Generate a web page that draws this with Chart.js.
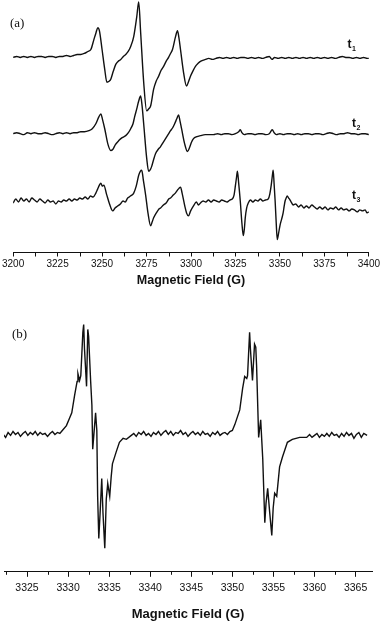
<!DOCTYPE html>
<html>
<head>
<meta charset="utf-8">
<script src="https://cdn.jsdelivr.net/npm/chart.js@4.4.1/dist/chart.umd.min.js"></script>
<style>
  html, body { margin: 0; padding: 0; background: #fff; }
  body { width: 382px; height: 624px; position: relative; overflow: hidden; }
  .panel { position: absolute; left: 0; width: 382px; }
  #panelA { top: 0; height: 300px; }
  #panelB { top: 300px; height: 324px; }
  .tag { position: absolute; font: 13px "Liberation Serif", serif; color: #111; line-height: 15px; }
</style>
</head>
<body>
<div class="panel" id="panelA"><canvas id="chartA"></canvas></div>
<div class="panel" id="panelB"><canvas id="chartB"></canvas></div>
<div class="tag" style="left:10px; top:15px">(a)</div>
<div class="tag" style="left:12px; top:326px">(b)</div>
<script>
// field (G), signal relative to each trace's own baseline
const t1Spectrum = [
	[3200,0],[3202,1],[3204,0],[3206,1],[3208,0],[3210,1],[3212,0],[3214,1],[3216,1],[3218,0],
	[3220,1],[3222,1],[3224,0],[3226,1],[3228,1],[3230,2],[3232,1],[3234,2],[3236,3],[3238,3],
	[3240,4],[3242,6],[3243.7,8],[3245.4,18],[3246.6,25],[3247.6,30],[3248.5,27],[3250,8],[3251.5,-12],[3252.7,-25],
	[3254,-24],[3254.9,-22],[3256.3,-14],[3257.7,-7],[3259,-4],[3260.5,-2],[3262,1],[3263.3,3],[3264.7,6],[3266.1,11],
	[3267.8,21],[3269.5,41],[3270.6,56],[3271.7,25],[3273.4,-25],[3275.1,-54],[3276.2,-52],[3277.3,-49],[3279,-32],[3280.4,-24],
	[3281.8,-19],[3283.2,-13],[3284.6,-9],[3286,-4],[3287.4,0],[3288.5,4],[3289.6,8],[3291.3,21],[3292.4,27],[3293.2,20],
	[3294.1,8],[3295.8,-15],[3297.5,-29],[3298.5,-25],[3299.7,-19],[3301,-14],[3302.5,-9],[3304,-6],[3305.3,-4],[3308.1,-2],
	[3310,-1],[3312,-2],[3314,-1],[3316,0],[3318,-1],[3320,0],[3322,-1],[3324,0],[3326,-1],[3328,0],
	[3330,0],[3332,-1],[3334,0],[3336,-1],[3338,0],[3340,-1],[3342,0],[3344,1],[3345.5,-2],[3347,0],
	[3349,-1],[3351,0],[3353,-1],[3355,0],[3357,-1],[3359,0],[3361,-1],[3363,0],[3365,-1],[3367,0],
	[3369,-1],[3371,0],[3373,-1],[3375,0],[3377,-1],[3379,0],[3381,-1],[3383,0],[3385,1],[3387,0],
	[3389,0],[3391,-1],[3393,0],[3395,-1],[3397,0],[3399,-1],[3400,-1]
];

const t2Spectrum = [
	[3200,0],[3202,1],[3204,0],[3206,-1],[3208,1],[3210,0],[3212,1],[3214,0],[3216,0],[3218,1],
	[3220,0],[3222,-1],[3224,0],[3226,1],[3228,0],[3230,1],[3232,0],[3234,1],[3236,1],[3238,2],
	[3240,2],[3242.6,3],[3244.5,5],[3246.5,10],[3248.2,17],[3249.3,20],[3250.3,14],[3251.5,5],[3253.2,-10],[3254.9,-17],
	[3256,-16],[3257.5,-11],[3259.4,-7],[3261.3,-4],[3263.3,-2],[3264.8,1],[3266.1,5],[3267.4,10],[3268.3,17],[3269.5,25],
	[3270.6,33],[3271.7,38],[3272.5,28],[3273.4,10],[3275.1,-25],[3276.2,-38],[3277.2,-36],[3277.9,-33],[3279,-26],[3280.1,-20],
	[3281.5,-16],[3282.9,-13],[3284.3,-9],[3285.7,-5],[3287.1,-1],[3288.5,3],[3289.7,6],[3290.8,10],[3292,15],[3293,19],
	[3293.8,13],[3294.7,5],[3296.4,-10],[3298,-18],[3299.2,-14],[3300.2,-9],[3301.4,-5],[3303.3,-3],[3305.3,-2],[3308,-1],
	[3310,-1],[3312.6,-1],[3315,0],[3317,-1],[3319,0],[3321,0],[3323,-1],[3325,0],[3326.8,2],[3327.7,4],
	[3328.6,1],[3330,-1],[3332,0],[3334,0],[3336,-1],[3338,0],[3340,0],[3342,-1],[3344,0],[3345.7,4],
	[3346.7,1],[3348,-1],[3350,0],[3352,-1],[3354,0],[3356,0],[3358,-1],[3360,0],[3362,-1],[3364,0],
	[3366,0],[3368,-1],[3370,0],[3372,0],[3374,-1],[3376,0],[3378,1],[3380,0],[3382,-1],[3384,0],
	[3386,0],[3388,1],[3390,0],[3392,0],[3394,-1],[3396,0],[3398,0],[3400,-1]
];

const t3Spectrum = [
	[3200,-2],[3201.5,2],[3203,-1],[3204.5,3],[3206,0],[3207.5,2],[3209,-1],[3210.5,3],[3212,1],[3213.5,-1],
	[3215,2],[3216.5,0],[3218,-2],[3219.5,1],[3221,-1],[3222.5,0],[3224,-3],[3225.5,0],[3227,-1],[3228.5,1],
	[3230,0],[3231.5,2],[3233,0],[3234.5,2],[3236,1],[3237.5,3],[3239,2],[3240.5,4],[3242,2],[3243.5,5],
	[3245,4],[3246.5,8],[3247.5,12],[3248.5,16],[3249.3,18],[3250.2,15],[3251,16],[3252.5,7],[3254.2,-3],[3256,-10],
	[3257.3,-7],[3258.8,-5],[3260.3,-3],[3261.8,0],[3263,-1],[3264.4,3],[3266,5],[3267.8,8],[3269.2,15],[3270.6,26],
	[3271.5,30],[3272.3,31],[3273.3,20],[3274.5,6],[3275.8,-12],[3277.3,-25],[3278.2,-21],[3279,-17],[3280.5,-12],[3282,-8],
	[3282.9,-7],[3284.5,-4],[3286,-2],[3287.5,2],[3288.5,3],[3290,6],[3291.2,8],[3292.4,11],[3293.3,13],[3294.1,14],
	[3295,8],[3296.5,-5],[3297.5,-12],[3298.6,-15],[3299.8,-10],[3301.4,-5],[3303,-1],[3304.2,-4],[3305.3,-2],[3306.8,0],
	[3308.3,-1],[3309.8,1],[3311.3,-1],[3312.8,1],[3314.3,0],[3315.8,-1],[3317.3,1],[3318.8,0],[3320.3,-1],[3321.8,1],
	[3323.2,2],[3324.2,6],[3325,16],[3325.6,24],[3326.1,30],[3326.8,18],[3327.7,0],[3328.6,-22],[3329.4,-35],[3330,-28],
	[3330.5,-17],[3331.3,-7],[3332.2,-2],[3333.4,1],[3334.8,-1],[3336.2,1],[3337.6,0],[3339,2],[3340.4,0],[3341.8,1],
	[3343.4,2],[3344.3,7],[3345.1,16],[3345.7,25],[3346.2,31],[3346.7,18],[3347.3,0],[3347.9,-22],[3348.5,-39],[3349.2,-33],
	[3350.1,-24],[3351,-18],[3351.8,-12],[3352.4,-5],[3352.9,0],[3353.5,3],[3354.1,5],[3354.9,3],[3355.7,1],[3356.6,-2],
	[3357.4,-4],[3358.9,-3],[3360.4,-6],[3361.9,-4],[3363.4,-7],[3364.9,-5],[3366.4,-7],[3367.9,-4],[3369.4,-6],[3370.9,-8],
	[3372.4,-6],[3373.9,-8],[3375.4,-6],[3376.9,-9],[3378.4,-7],[3379.9,-8],[3381.4,-6],[3382.9,-9],[3384.4,-7],[3385.9,-9],
	[3387.4,-8],[3388.9,-10],[3390.4,-8],[3391.9,-9],[3393.4,-11],[3394.9,-9],[3396.4,-10],[3397.9,-9],[3399,-12],[3400,-11]
];

const bSpectrum = [
	[3322.1,0],[3322.4,-3],[3322.7,2],[3323,-1],[3323.3,3],[3323.6,0],[3323.9,2],[3324.2,-2],[3324.5,1],[3324.8,3],
	[3325.1,-1],[3325.4,2],[3325.7,0],[3326,3],[3326.3,-1],[3326.6,2],[3326.9,0],[3327.2,1],[3327.5,-2],[3327.8,1],
	[3328.1,3],[3328.4,0],[3328.7,2],[3329,1],[3329.3,4],[3329.8,9],[3330.2,17],[3330.45,22],[3330.8,40],[3331.1,54],
	[3331.2,62],[3331.4,55],[3331.55,60],[3331.8,104],[3331.9,112],[3332,87],[3332.25,49],[3332.4,107],[3332.5,100],[3332.75,54],
	[3332.9,30],[3333,-15],[3333.35,22],[3333.5,4],[3333.6,-63],[3333.74,-106],[3333.9,-80],[3334.1,-45],[3334.25,-80],[3334.47,-116],
	[3334.65,-66],[3334.83,-50],[3335.07,-63],[3335.25,-43],[3335.4,-30],[3335.85,-18],[3336.25,-8],[3336.7,-4],[3337.1,-5],[3337.7,-1],
	[3338,1],[3338.3,-2],[3338.6,2],[3338.9,0],[3339.2,3],[3339.5,-1],[3339.8,1],[3340.1,-2],[3340.4,2],[3340.7,0],
	[3341,3],[3341.3,-1],[3341.6,2],[3341.9,4],[3342.2,0],[3342.5,3],[3342.8,-1],[3343.1,2],[3343.4,1],[3343.7,4],
	[3344,0],[3344.3,2],[3344.6,-2],[3344.9,1],[3345.2,3],[3345.5,0],[3345.8,2],[3346.1,-1],[3346.4,3],[3346.7,0],
	[3347,1],[3347.3,-2],[3347.6,2],[3347.9,0],[3348.2,3],[3348.5,-1],[3348.8,1],[3349.1,2],[3349.4,0],[3349.7,3],
	[3350,4],[3350.3,10],[3350.9,25],[3351.25,47],[3351.5,59],[3351.75,57],[3351.85,60],[3352.1,104],[3352.2,87],[3352.45,55],
	[3352.7,92],[3352.85,89],[3352.95,70],[3353.2,-3],[3353.45,15],[3353.58,-6],[3353.7,-25],[3353.95,-90],[3354.1,-70],[3354.3,-55],
	[3354.55,-80],[3354.8,-103],[3354.97,-75],[3355.15,-60],[3355.4,-63],[3355.75,-33],[3356.1,-23],[3356.7,-8],[3357.3,-5],[3358.2,-3],
	[3359.05,-3],[3359.4,0],[3359.7,-3],[3360,-1],[3360.3,1],[3360.6,-3],[3360.9,0],[3361.2,-2],[3361.5,1],[3361.8,-2],
	[3362.1,2],[3362.4,-1],[3362.7,0],[3363,-3],[3363.3,1],[3363.6,-2],[3363.9,2],[3364.2,-1],[3364.5,1],[3364.8,-4],
	[3365.1,0],[3365.4,2],[3365.7,-3],[3366,1],[3366.4,-1]
];

const aTicks = [3200, 3225, 3250, 3275, 3300, 3325, 3350, 3375, 3400];
const aMinorTicks = [3212.5, 3237.5, 3262.5, 3287.5, 3312.5, 3337.5, 3362.5, 3387.5];
const bTicks = [3325, 3330, 3335, 3340, 3345, 3350, 3355, 3360, 3365];
const bMinorTicks = [3322.5, 3327.5, 3332.5, 3337.5, 3342.5, 3347.5, 3352.5, 3357.5, 3362.5];

// stacking offsets for panel (a) and trace tags
const aOffsets = [197, 120, 52];
const aSubscripts = ["1", "2", "3"];
const aTagFields = [3388, 3390.5, 3390.5];
const aTagLift = [10, 7, 2];
const bOffset = 140;

const INK = "#111";

function toPoints(spectrum, offset) {
	return spectrum.map(([x, y]) => ({ x, y: y + offset }));
}

function traceDataset(points, smooth) {
	return {
		data: points,
		borderColor: INK,
		borderWidth: 1.4,
		pointRadius: 0,
		cubicInterpolationMode: smooth ? "monotone" : "default",
		tension: 0,
		fill: false,
	};
}

const minorTicks = {
	id: "minorTicks",
	afterDraw(chart, _args, opts) {
		const { ctx } = chart;
		const scale = chart.scales.x;
		ctx.save();
		ctx.strokeStyle = INK;
		ctx.lineWidth = 1;
		ctx.beginPath();
		for (const v of opts.values) {
			const px = Math.round(scale.getPixelForValue(v)) + 0.5;
			ctx.moveTo(px, scale.top);
			ctx.lineTo(px, scale.top + opts.length);
		}
		ctx.stroke();
		ctx.restore();
	},
};

const traceTags = {
	id: "traceTags",
	afterDraw(chart) {
		const { ctx, scales } = chart;
		ctx.save();
		ctx.fillStyle = INK;
		ctx.textBaseline = "alphabetic";
		aSubscripts.forEach((sub, i) => {
			const x = scales.x.getPixelForValue(aTagFields[i]);
			const y = scales.y.getPixelForValue(aOffsets[i] + aTagLift[i]);
			ctx.font = "bold 12px 'Liberation Sans', Arial, sans-serif";
			ctx.fillText("t", x, y);
			ctx.font = "bold 7px 'Liberation Sans', Arial, sans-serif";
			ctx.fillText(sub, x + 4.5, y + 3);
		});
		ctx.restore();
	},
};

function fieldAxis(min, max, ticks, tickLen, tickPad, labelSize, titleSize, titlePad) {
	return {
		type: "linear",
		min,
		max,
		afterBuildTicks(scale) {
			scale.ticks = ticks.map((v) => ({ value: v }));
		},
		grid: {
			drawOnChartArea: false,
			drawTicks: true,
			tickLength: tickLen,
			tickColor: INK,
			tickWidth: 1,
		},
		border: { display: true, color: INK, width: 1 },
		ticks: {
			color: INK,
			padding: tickPad,
			maxRotation: 0,
			autoSkip: false,
			font: { family: "'Liberation Sans', Arial, sans-serif", size: labelSize },
			callback: (v) => String(v),
		},
		title: {
			display: true,
			text: "Magnetic Field (G)",
			color: INK,
			padding: titlePad,
			font: { family: "'Liberation Sans', Arial, sans-serif", size: titleSize, weight: "bold" },
		},
	};
}

new Chart(document.getElementById("chartA"), {
	type: "line",
	data: {
		datasets: [
			traceDataset(toPoints(t1Spectrum, aOffsets[0]), true),
			traceDataset(toPoints(t2Spectrum, aOffsets[1]), true),
			traceDataset(toPoints(t3Spectrum, aOffsets[2]), true),
		],
	},
	options: {
		animation: false,
		responsive: true,
		maintainAspectRatio: false,
		layout: { padding: { left: 12, right: 13, top: 0, bottom: 11.5 } },
		scales: {
			x: fieldAxis(3200, 3400, aTicks, 4, 2, 10, 12.5, { top: 1, bottom: 0 }),
			y: { display: false, min: 0, max: 255 },
		},
		plugins: {
			legend: { display: false },
			tooltip: { enabled: false },
			minorTicks: { values: aMinorTicks, length: 4 },
		},
	},
	plugins: [minorTicks, traceTags],
});

new Chart(document.getElementById("chartB"), {
	type: "line",
	data: {
		datasets: [traceDataset(toPoints(bSpectrum, bOffset), false)],
	},
	options: {
		animation: false,
		responsive: true,
		maintainAspectRatio: false,
		layout: { padding: { left: 4, right: 10, top: 0, bottom: 2 } },
		scales: {
			x: fieldAxis(3322.2, 3367, bTicks, 5, 5, 10.5, 13, { top: 7, bottom: 0 }),
			y: { display: false, min: 0, max: 277 },
		},
		plugins: {
			legend: { display: false },
			tooltip: { enabled: false },
			minorTicks: { values: bMinorTicks, length: 3 },
		},
	},
	plugins: [minorTicks],
});
</script>
</body>
</html>
